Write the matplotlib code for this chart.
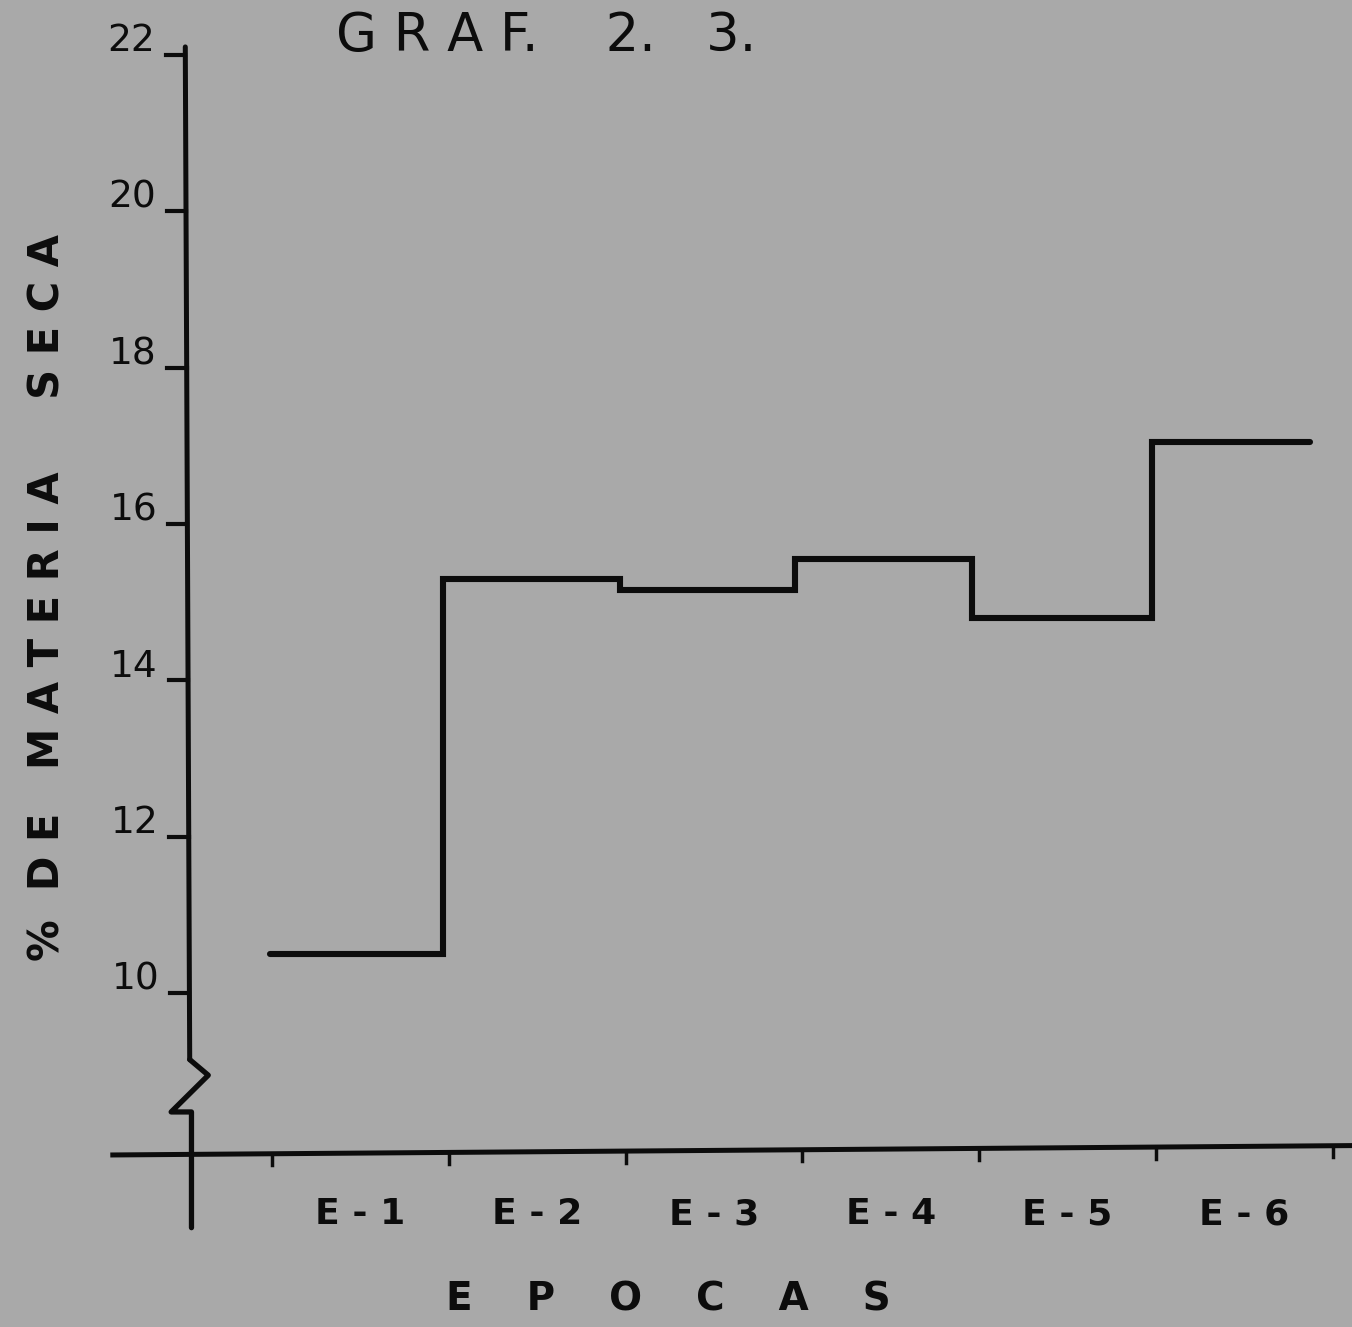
import matplotlib
matplotlib.use("Agg")
import matplotlib.pyplot as plt

# values
epochs = ["E-1", "E-2", "E-3", "E-4", "E-5", "E-6"]
dry_matter = [10.5, 15.3, 15.15, 15.55, 14.8, 17.05]
step_edges = [-0.01, 0.97, 1.97, 2.96, 3.96, 4.98, 5.87]
yticks = [10, 12, 14, 16, 18, 20, 22]
title = "G R A F.    2.   3."
ylabel = "%  D E   M A T E R I A     S E C A"
xlabel = "E    P    O    C    A    S"

BG = "#a9a9a9"
INK = "#0c0c0c"

fig = plt.figure(figsize=(13.52, 13.27), dpi=100)
fig.patch.set_facecolor(BG)
ax = fig.add_axes([0, 0, 1, 1])
ax.set_facecolor(BG)
ax.set_xlim(-1.538, 6.109)
ax.set_ylim(5.73, 22.70)
ax.axis("off")

# y axis (with break near the bottom)
ax.plot([-0.49, -0.465], [22.1, 9.15], color=INK, lw=3.6, solid_capstyle="round")
ax.plot([-0.465, -0.36, -0.57, -0.455, -0.455],
        [9.15, 8.95, 8.48, 8.48, 7.0],
        color=INK, lw=3.8, solid_joinstyle="round", solid_capstyle="round")
# y ticks and labels
for v in yticks:
    x0 = -0.49 + 0.025 * (22.1 - v) / 12.95
    ax.plot([x0 - 0.11, x0], [v, v], color=INK, lw=3.0)
    ax.text(x0 - 0.17, v + 0.17, str(v), ha="right", va="center",
            fontsize=27, color=INK)

# x axis, slightly tilted like the original
ax.plot([-0.9, 6.109], [7.93, 8.05], color=INK, lw=3.6)
for i in range(len(epochs) + 1):
    yb = 7.93 + 0.12 * (i + 0.9) / 7.0
    ax.plot([i, i], [yb, yb - 0.15], color=INK, lw=2.5)
for i, lab in enumerate(epochs):
    ax.text(i + 0.5, 7.17, lab.replace("-", " - "), ha="center", va="center",
            fontsize=26, color=INK, fontweight="bold")

# step line
xs, ys = [], []
for i, v in enumerate(dry_matter):
    xs += [step_edges[i], step_edges[i + 1]]
    ys += [v, v]
ax.plot(xs, ys, color=INK, lw=4.4, solid_joinstyle="miter", solid_capstyle="round")

# text
ax.text(1.55, 22.24, title, ha="center", va="center", fontsize=38, color=INK)
ax.text(-1.27, 15.06, ylabel, rotation=90, ha="center", va="center",
        fontsize=30, color=INK, fontweight="bold")
ax.text(2.24, 6.08, xlabel, ha="center", va="center", fontsize=28,
        color=INK, fontweight="bold")

fig.savefig("out.png", dpi=100, facecolor=BG)
